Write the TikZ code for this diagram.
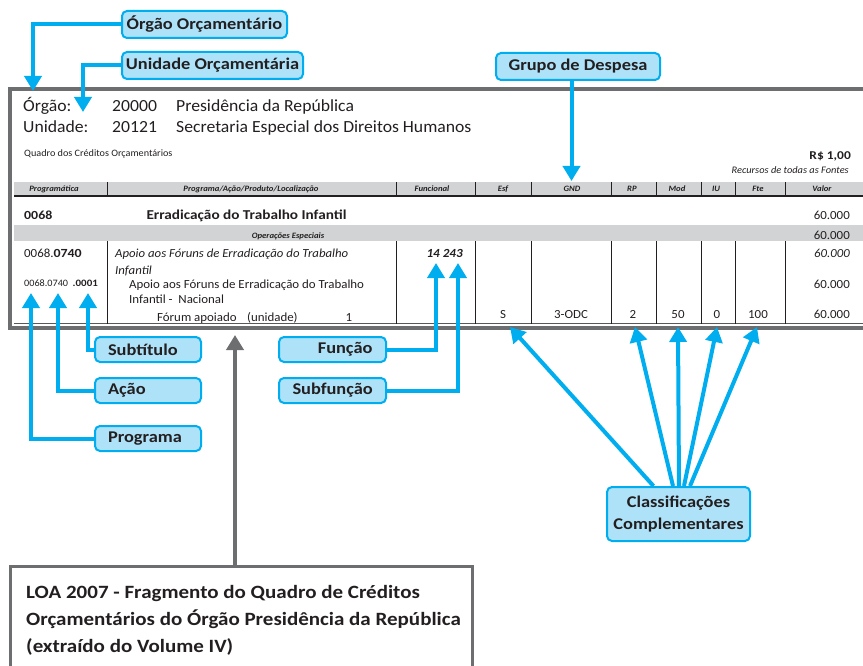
\documentclass[tikz,border=0pt]{standalone}
\usepackage{fontspec}
\setmainfont{Carlito}[FakeStretch = 1.04, BoldFeatures = {FakeStretch = 1.12}, BoldItalicFeatures = {FakeStretch = 1.06}]
\usetikzlibrary{arrows.meta}

\definecolor{callfill}{HTML}{AEE2F9}
\definecolor{callline}{HTML}{00AEEF}
\definecolor{framegray}{HTML}{6D6E70}
\definecolor{bandgray}{HTML}{D1D3D4}
\definecolor{ink}{HTML}{231F20}

\tikzset{
	callout/.style = {draw = callline, fill = callfill, line width = 2pt, rounded corners = 5pt, inner sep = 0pt, text = ink, font = \bfseries\fontsize{16.4}{22}\selectfont},
	conn/.style = {draw = callline, line width = 4pt, -{Triangle[width = 17pt, length = 15pt]}},
	cell/.style = {inner sep = 0pt, text = ink, anchor = base, font = \fontsize{12.4}{14}\selectfont},
	head/.style = {inner sep = 0pt, text = ink, anchor = base, font = \bfseries\itshape\fontsize{8.2}{9}\selectfont},
	rule/.style = {draw = ink, line width = 0.8pt}
}

\begin{document}
\begin{tikzpicture}[x = 1pt, y = -1pt]
	\useasboundingbox (0,0) rectangle (863,666);
	
	% table frame and bands
	\fill[bandgray] (14,182.5) rectangle (866,196);
	\fill[bandgray] (14,225) rectangle (866,241.5);
	\draw[rule, line width = 1.5pt] (14,196) -- (866,196);
	\draw[rule, draw = ink!75, line width = 1.2pt] (14,323.5) -- (866,323.5);
	\draw[rule] (107,182.5) -- (107,196) (396,182.5) -- (396,196) (475,182.5) -- (475,196) (531,182.5) -- (531,196) (611,182.5) -- (611,196) (656,182.5) -- (656,196) (701,182.5) -- (701,196) (735,182.5) -- (735,196) (785,182.5) -- (785,196);
	\draw[rule] (107,241.5) -- (107,323.5) (396,241.5) -- (396,323.5) (475,241.5) -- (475,323.5) (531,241.5) -- (531,323.5) (611,241.5) -- (611,323.5) (656,241.5) -- (656,323.5) (701,241.5) -- (701,323.5) (735,241.5) -- (735,323.5) (785,241.5) -- (785,323.5);
	\draw[framegray, line width = 3.5pt] (866,89) -- (10,89) -- (10,328) -- (866,328);
	
	% heading of the page
	\node[cell, anchor = base west, font = \fontsize{17}{18}\selectfont] at (23,112) (orgaolbl) {Órgão:};
	\node[cell, anchor = base west, font = \fontsize{17}{18}\selectfont] at (112,112) (orgaocod) {20000};
	\node[cell, anchor = base west, font = \fontsize{17}{18}\selectfont] at (176,112) (orgaonome) {Presidência da República};
	\node[cell, anchor = base west, font = \fontsize{17}{18}\selectfont] at (23,133) (unidlbl) {Unidade:};
	\node[cell, anchor = base west, font = \fontsize{17}{18}\selectfont] at (112,133) (unidcod) {20121};
	\node[cell, anchor = base west, font = \fontsize{17}{18}\selectfont] at (176,133) (unidnome) {Secretaria Especial dos Direitos Humanos};
	\node[cell, anchor = base west, font = \fontsize{9.8}{10}\selectfont] at (24,157) (quadro) {Quadro dos Créditos Orçamentários};
	\node[cell, anchor = base east, font = \bfseries\fontsize{12}{14}\selectfont] at (851,160) (moeda) {R\$ 1,00};
	\node[cell, anchor = base east, font = \itshape\fontsize{10}{10}\selectfont] at (849,174) (recursos) {Recursos de todas as Fontes};
	
	% column heads
	\node[head] at (54,192) (hprog) {Programática};
	\node[head] at (251,192) (hacao) {Programa/Ação/Produto/Localização};
	\node[head] at (432,192) (hfunc) {Funcional};
	\node[head] at (503,192) (hesf) {Esf};
	\node[head] at (572,192) (hgnd) {GND};
	\node[head] at (632,192) (hrp) {RP};
	\node[head] at (677,192) (hmod) {Mod};
	\node[head] at (716,192) (hiu) {IU};
	\node[head] at (758,192) (hfte) {Fte};
	\node[head] at (822,192) (hvalor) {Valor};
	
	% rows
	\node[cell, anchor = base west, font = \bfseries\fontsize{12.4}{14}\selectfont] at (24,219) (prog) {0068};
	\node[cell, font = \bfseries\fontsize{13.6}{15}\selectfont] at (246.5,219) (prognome) {Erradicação do Trabalho Infantil};
	\node[cell, anchor = base east] at (850,219) (progvalor) {60.000};
	\node[head] at (288,238) (opesp) {Operações Especiais};
	\node[cell, anchor = base east] at (850,240) (opvalor) {60.000};
	
	\node[cell, anchor = base west] at (24,258) (acaocod) {0068.\textbf{0740}};
	\node[cell, anchor = base west, font = \itshape\fontsize{12.3}{14}\selectfont] at (115,258) (acaonome) {Apoio aos Fóruns de Erradicação do Trabalho};
	\node[cell, anchor = base west, font = \itshape\fontsize{12.3}{14}\selectfont] at (115,274) (acaonome2) {Infantil};
	\node[cell, anchor = base east, font = \bfseries\itshape\fontsize{12.4}{14}\selectfont] at (463,258) (funcional) {14 243};
	\node[cell, anchor = base east, font = \itshape\fontsize{12.3}{14}\selectfont] at (850,258) (acaovalor) {60.000};
	
	\node[cell, anchor = base west, font = \fontsize{9.8}{10}\selectfont] at (24,287) (subcod) {0068.0740 \ \textbf{.0001}};
	\node[cell, anchor = base west] at (129,288) (subnome) {Apoio aos Fóruns de Erradicação do Trabalho};
	\node[cell, anchor = base west] at (129,303) (subnome2) {Infantil -\ \ Nacional};
	\node[cell, anchor = base east] at (850,288) (subvalor) {60.000};
	
	\node[cell, anchor = base west] at (157,321) (produto) {Fórum apoiado};
	\node[cell, anchor = base west] at (247,321) (unidade) {(unidade)};
	\node[cell] at (349,321) (meta) {1};
	\node[cell] at (503,318) (vesf) {S};
	\node[cell] at (571,318) (vgnd) {3-ODC};
	\node[cell] at (633,318) (vrp) {2};
	\node[cell] at (678,318) (vmod) {50};
	\node[cell] at (717,318) (viu) {0};
	\node[cell] at (758,318) (vfte) {100};
	\node[cell, anchor = base east] at (850,318) (vvalor) {60.000};
	
	% callouts
	\node[callout, minimum width = 165pt, minimum height = 27pt] at (204.5,24.5) (orgao) {Órgão Orçamentário};
	\node[callout, minimum width = 181pt, minimum height = 27pt] at (212.5,65.5) (unid) {Unidade Orçamentária};
	\node[callout, minimum width = 164pt, minimum height = 27pt] at (578,66.5) (grupo) {Grupo de Despesa};
	\node[callout, minimum height = 25pt, text width = 80pt, inner xsep = 13pt, align = left] at (148,349.5) (subtitulo) {Subtítulo};
	\node[callout, minimum height = 25pt, text width = 80pt, inner xsep = 13pt, align = left] at (148,390.5) (acao) {Ação};
	\node[callout, minimum height = 25pt, text width = 80pt, inner xsep = 13pt, align = left] at (148,438.5) (programa) {Programa};
	\node[callout, minimum height = 25pt, text width = 80pt, inner xsep = 13.5pt, align = right] at (332.5,349.5) (funcao) {Função};
	\node[callout, minimum height = 25pt, text width = 80pt, inner xsep = 13.5pt, align = right] at (332.5,390.5) (subfuncao) {Subfunção};
	\node[callout, minimum width = 143pt, minimum height = 54pt, align = center] at (678.5,514) (classif) {Classificações\\Complementares};
	
	% box of the source
	\draw[framegray, line width = 3pt] (10,672) -- (10,566) -- (472,566) -- (472,672);
	\node[inner sep = 0pt, anchor = north west, align = left, text = ink, font = \bfseries\fontsize{18.75}{27}\selectfont] at (26,585) (loa) {LOA 2007 - Fragmento do Quadro de Créditos\\Orçamentários do Órgão Presidência da República\\(extraído do Volume IV)};
	
	\coordinate (orgtip) at (33,91);
	\coordinate (unidtip) at (83,112);
	\coordinate (gndtip) at (571.5,181);
	\coordinate (progtip) at (31,293);
	\coordinate (acaotip) at (58,293);
	\coordinate (subtip) at (88,293);
	\coordinate (functip) at (436,263);
	\coordinate (subfunctip) at (458,263);
	\coordinate (esftip) at (510,327);
	\coordinate (rptip) at (635,327);
	\coordinate (modtip) at (678,327);
	\coordinate (iutip) at (717,327);
	\coordinate (ftetip) at (757,327);
	\coordinate (loatop) at (235,566);
	\coordinate (fragtip) at (235,335);
	
	\draw[conn] (orgao.west) -| (orgtip);
	\draw[conn] (unid.west) -| (unidtip);
	\draw[conn] (grupo.south -| gndtip) -- (gndtip);
	\draw[conn] (subtitulo.west) -| (subtip);
	\draw[conn] (acao.west) -| (acaotip);
	\draw[conn] (programa.west) -| (progtip);
	\draw[conn] (funcao.east) -| (functip);
	\draw[conn] (subfuncao.east) -| (subfunctip);
	
	\draw[conn] ([xshift = -25pt]classif.north) -- (esftip);
	\draw[conn] ([xshift = -5.5pt]classif.north) -- (rptip);
	\draw[conn] ([xshift = 0.5pt]classif.north) -- (modtip);
	\draw[conn] ([xshift = 5.5pt]classif.north) -- (iutip);
	\draw[conn] ([xshift = 11.5pt]classif.north) -- (ftetip);
	
	\draw[framegray, line width = 4pt, -{Triangle[width = 17pt, length = 15pt]}] (loatop) -- (fragtip);
\end{tikzpicture}
\end{document}
